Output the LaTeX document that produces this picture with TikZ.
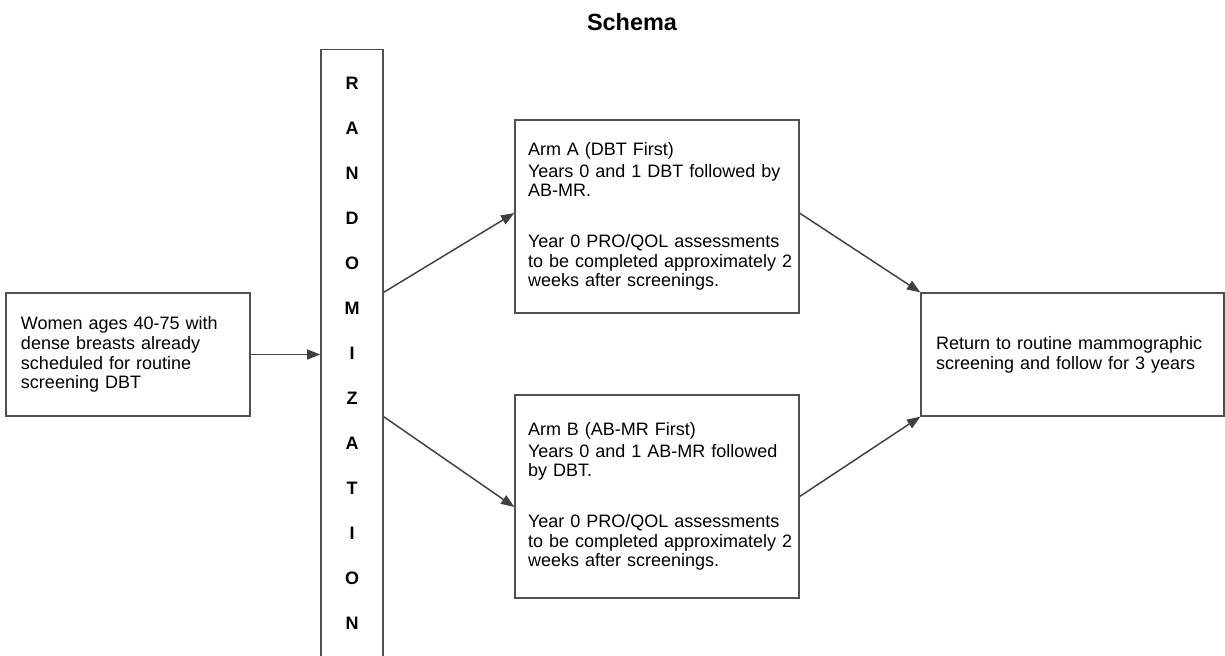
\documentclass[tikz,border=0pt]{standalone}
\usepackage{fontspec}
\setmainfont{Liberation Sans}
\usepackage{xcolor}
\definecolor{boxgray}{HTML}{505050}
\definecolor{arrowgray}{HTML}{404040}
\usetikzlibrary{arrows.meta}
\tikzset{box/.style={draw=boxgray, line width=1pt, align=left, inner ysep=0pt,
   font={\fontsize{13.5}{14.8}\selectfont}},
 flow/.style={draw=arrowgray, line width=1.1pt, -{Triangle[length=10pt,width=7.5pt]}},
 letter/.style={font={\bfseries\fontsize{13.5}{15}\selectfont}},
 }

\begin{document}
\begin{tikzpicture}[x=0.75pt,y=-0.75pt]
        \clip (0,0) rectangle (1225,656);
        \node (title) at (632,22) {\bfseries\fontsize{17.6}{20}\selectfont Schema};
        % boxes
        \node[box, text width=160.5pt, inner xsep=11.25pt, minimum height=92.25pt] (women) at (128,354.5)
          {Women ages 40-75 with\\dense breasts already\\scheduled for routine\\screening DBT};
        \node[draw=boxgray, line width=1pt, minimum width=46.5pt, minimum height=473pt, anchor=north] (rand) at (352,49) {};
        \node[box, text width=193.5pt, inner xsep=9.75pt, minimum height=144.75pt] (armA) at (657,216.5)
          {Arm A (DBT First)\\[1.5pt]Years 0 and 1 DBT followed by\\AB-MR.\\[23pt]Year 0 PRO/QOL assessments\\\mbox{to be completed approximately 2}\\weeks after screenings.};
        \node[box, text width=193.5pt, inner xsep=9.75pt, minimum height=152.25pt] (armB) at (657,496.5)
          {Arm B (AB-MR First)\\[1.5pt]Years 0 and 1 AB-MR followed\\by DBT.\\[23pt]Year 0 PRO/QOL assessments\\\mbox{to be completed approximately 2}\\weeks after screenings.};
        \node[box, text width=204.75pt, inner xsep=11.25pt, minimum height=92.25pt] (follow) at (1072.5,354.5)
          {Return to routine mammographic\\screening and follow for 3 years};
        % randomization letters
        \node[letter] (r1) at (352,83) {R};
        \node[letter] (r2) at (352,128) {A};
        \node[letter] (r3) at (352,173) {N};
        \node[letter] (r4) at (352,218) {D};
        \node[letter] (r5) at (352,263) {O};
        \node[letter] (r6) at (352,308) {M};
        \node[letter] (r7) at (352,353) {I};
        \node[letter] (r8) at (352,398) {Z};
        \node[letter] (r9) at (352,443) {A};
        \node[letter] (r10) at (352,488) {T};
        \node[letter] (r11) at (352,533) {I};
        \node[letter] (r12) at (352,578) {O};
        \node[letter] (r13) at (352,623) {N};
        % arrows
        \draw[flow] (women.east) -- (women.east -| rand.west);
        \draw[flow] (rand.east |- women.north) -- ([yshift=2.6pt]armA.west);
        \draw[flow] (rand.east |- women.south) -- ([yshift=-7.9pt]armB.west);
        \draw[flow] ([yshift=2.5pt]armA.east) -- (follow.north west);
        \draw[flow] (armB.east) -- (follow.south west);
    \end{tikzpicture}
\end{document}
